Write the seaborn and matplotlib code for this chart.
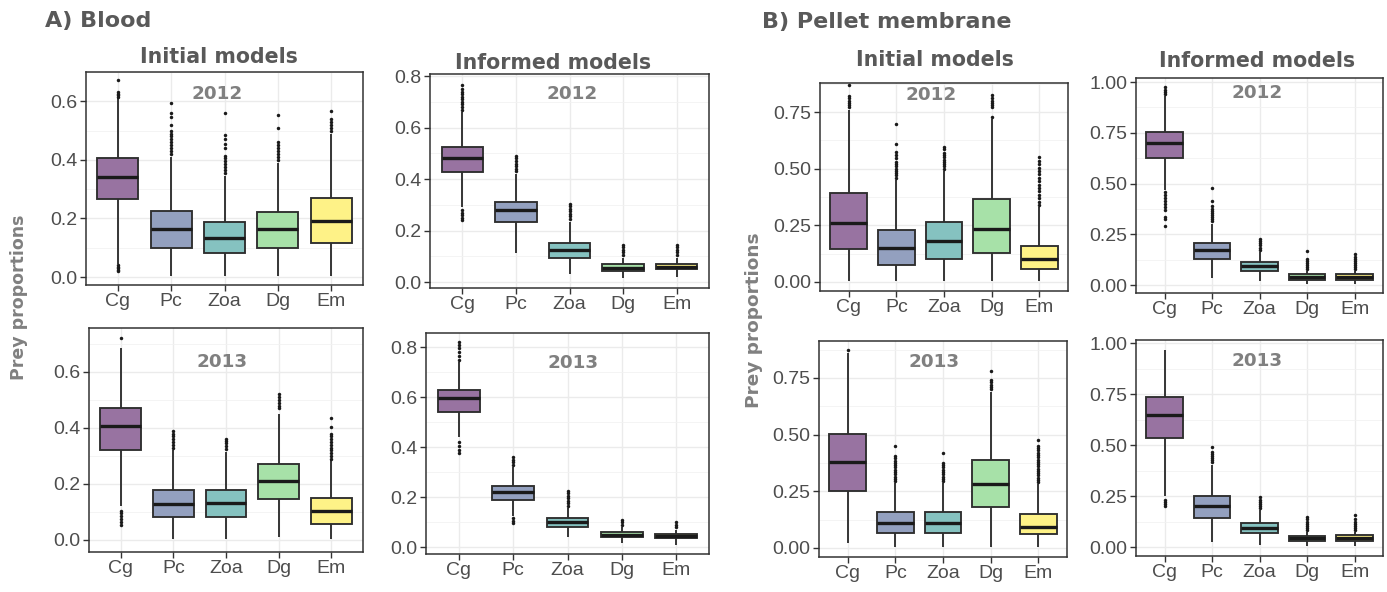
import numpy as np
import pandas as pd
import matplotlib
matplotlib.use("Agg")
import matplotlib.pyplot as plt
import seaborn as sns
from matplotlib.ticker import MultipleLocator, FormatStrFormatter

# ---------------- data ----------------
CATS = ["Cg", "Pc", "Zoa", "Dg", "Em"]

# box statistics per prey: [whisker_low, q1, median, q3, whisker_high]
blood_init_2012_box = [[0.045, 0.265, 0.340, 0.408, 0.610],
                       [0.005, 0.098, 0.163, 0.226, 0.410],
                       [0.005, 0.081, 0.135, 0.188, 0.345],
                       [0.005, 0.098, 0.163, 0.222, 0.390],
                       [0.005, 0.115, 0.192, 0.270, 0.490]]
blood_init_2012_out = [[0.020, 0.025, 0.030, 0.035, 0.040, 0.615, 0.620, 0.625, 0.632, 0.672],
                       [0.42, 0.43, 0.44, 0.45, 0.46, 0.47, 0.48, 0.49, 0.50, 0.52, 0.545, 0.56, 0.593],
                       [0.355, 0.365, 0.375, 0.385, 0.395, 0.405, 0.415, 0.44, 0.455, 0.47, 0.485, 0.56],
                       [0.40, 0.41, 0.42, 0.43, 0.44, 0.45, 0.46, 0.51, 0.552],
                       [0.50, 0.51, 0.52, 0.53, 0.54, 0.567]]

blood_inf_2012_box = [[0.290, 0.428, 0.480, 0.525, 0.660],
                      [0.112, 0.234, 0.280, 0.312, 0.420],
                      [0.032, 0.092, 0.124, 0.153, 0.235],
                      [0.015, 0.044, 0.055, 0.070, 0.095],
                      [0.020, 0.050, 0.060, 0.070, 0.095]]
blood_inf_2012_out = [[0.24, 0.25, 0.26, 0.27, 0.28, 0.67, 0.68, 0.69, 0.70, 0.71, 0.72, 0.73, 0.74, 0.75, 0.765],
                      [0.43, 0.44, 0.45, 0.46, 0.47, 0.48, 0.49],
                      [0.245, 0.255, 0.265, 0.275, 0.285, 0.295, 0.305],
                      [0.105, 0.115, 0.125, 0.135, 0.145],
                      [0.105, 0.115, 0.125, 0.135, 0.145]]

blood_init_2013_box = [[0.120, 0.321, 0.407, 0.473, 0.685],
                       [0.003, 0.081, 0.127, 0.179, 0.320],
                       [0.003, 0.081, 0.133, 0.179, 0.315],
                       [0.010, 0.146, 0.212, 0.270, 0.450],
                       [0.003, 0.056, 0.104, 0.149, 0.285]]
blood_init_2013_out = [[0.055, 0.065, 0.075, 0.085, 0.095, 0.105, 0.720],
                       [0.33, 0.34, 0.35, 0.36, 0.37, 0.38, 0.39],
                       [0.325, 0.335, 0.345, 0.355, 0.360],
                       [0.47, 0.48, 0.49, 0.50, 0.51, 0.52],
                       [0.29, 0.30, 0.31, 0.32, 0.33, 0.34, 0.35, 0.36, 0.37, 0.38, 0.405, 0.435]]

blood_inf_2013_box = [[0.440, 0.541, 0.595, 0.628, 0.740],
                      [0.125, 0.188, 0.221, 0.245, 0.320],
                      [0.041, 0.081, 0.100, 0.115, 0.155],
                      [0.015, 0.040, 0.050, 0.060, 0.080],
                      [0.010, 0.035, 0.043, 0.052, 0.070]]
blood_inf_2013_out = [[0.375, 0.390, 0.405, 0.420, 0.750, 0.765, 0.780, 0.795, 0.810, 0.820],
                      [0.095, 0.105, 0.115, 0.33, 0.34, 0.35, 0.36],
                      [0.165, 0.175, 0.185, 0.195, 0.205, 0.215, 0.225],
                      [0.09, 0.10, 0.11],
                      [0.08, 0.09, 0.10]]

pellet_init_2012_box = [[0.005, 0.144, 0.262, 0.394, 0.760],
                        [0.005, 0.075, 0.149, 0.229, 0.450],
                        [0.005, 0.100, 0.182, 0.266, 0.490],
                        [0.005, 0.129, 0.232, 0.365, 0.720],
                        [0.005, 0.056, 0.100, 0.159, 0.330]]
pellet_init_2012_out = [[0.77, 0.78, 0.79, 0.80, 0.81, 0.82, 0.869],
                        [0.46, 0.47, 0.48, 0.49, 0.50, 0.51, 0.52, 0.53, 0.545, 0.56, 0.575, 0.61, 0.697],
                        [0.50, 0.51, 0.52, 0.53, 0.54, 0.55, 0.56, 0.57, 0.585, 0.597],
                        [0.73, 0.77, 0.78, 0.79, 0.80, 0.81, 0.825],
                        [0.34, 0.355, 0.37, 0.385, 0.40, 0.415, 0.43, 0.445, 0.46, 0.475, 0.49, 0.505, 0.52, 0.535, 0.55]]

pellet_inf_2012_box = [[0.470, 0.627, 0.700, 0.755, 0.930],
                       [0.034, 0.127, 0.172, 0.205, 0.300],
                       [0.020, 0.070, 0.092, 0.112, 0.165],
                       [0.005, 0.025, 0.040, 0.057, 0.070],
                       [0.005, 0.025, 0.040, 0.057, 0.070]]
pellet_inf_2012_out = [[0.29, 0.325, 0.335, 0.37, 0.385, 0.40, 0.415, 0.43, 0.445, 0.46, 0.94, 0.95, 0.96, 0.975],
                       [0.315, 0.325, 0.335, 0.345, 0.355, 0.365, 0.375, 0.39, 0.415, 0.476],
                       [0.175, 0.185, 0.195, 0.205, 0.215, 0.225],
                       [0.08, 0.09, 0.10, 0.11, 0.12, 0.13, 0.167],
                       [0.08, 0.09, 0.10, 0.11, 0.12, 0.13, 0.14, 0.155]]

pellet_init_2013_box = [[0.020, 0.253, 0.378, 0.502, 0.860],
                        [0.005, 0.068, 0.109, 0.157, 0.285],
                        [0.005, 0.068, 0.109, 0.157, 0.285],
                        [0.005, 0.180, 0.281, 0.388, 0.690],
                        [0.005, 0.060, 0.094, 0.149, 0.280]]
pellet_init_2013_out = [[0.873],
                        [0.295, 0.305, 0.315, 0.325, 0.335, 0.345, 0.355, 0.365, 0.375, 0.385, 0.395, 0.405, 0.451],
                        [0.295, 0.305, 0.315, 0.325, 0.335, 0.345, 0.355, 0.365, 0.375, 0.418],
                        [0.70, 0.71, 0.72, 0.73, 0.74, 0.782],
                        [0.29, 0.30, 0.31, 0.32, 0.33, 0.34, 0.35, 0.36, 0.37, 0.38, 0.39, 0.40, 0.41, 0.42, 0.43, 0.44, 0.45, 0.476]]

pellet_inf_2013_box = [[0.250, 0.536, 0.647, 0.734, 0.965],
                       [0.026, 0.144, 0.200, 0.252, 0.400],
                       [0.010, 0.067, 0.095, 0.119, 0.180],
                       [0.005, 0.030, 0.042, 0.055, 0.075],
                       [0.005, 0.030, 0.045, 0.060, 0.075]]
pellet_inf_2013_out = [[0.20, 0.21, 0.22, 0.23],
                       [0.415, 0.425, 0.435, 0.445, 0.455, 0.465, 0.49],
                       [0.19, 0.20, 0.21, 0.22, 0.23, 0.245],
                       [0.085, 0.095, 0.105, 0.115, 0.125, 0.135, 0.145],
                       [0.085, 0.095, 0.105, 0.115, 0.125, 0.135, 0.157]]

YEARS = ["2012", "2013"]
MODEL_TITLES = ["Initial models", "Informed models"]
GROUP_TITLES = ["A) Blood", "B) Pellet membrane"]
YLABEL = "Prey proportions"

# ---------------- style ----------------
sns.set_theme(style="ticks")
plt.rcParams["font.family"] = ["DejaVu Sans"]

W, H = 1387, 592
fig = plt.figure(figsize=(W / 100, H / 100), dpi=100)

vir = plt.get_cmap("viridis")(np.linspace(0, 1, 5))
ALPHA = 0.55
PAL = [tuple(1 - (1 - c[:3]) * ALPHA) for c in vir]

FRAME = "#333333"
TICKCOL = "#4d4d4d"
TITLECOL = "#595959"
YEARCOL = "#808080"


def px_axes(l, t, r, b):
    return fig.add_axes([l / W, 1 - b / H, (r - l) / W, (b - t) / H])


def panel(rect, box, out, ylim, step, fmt, year, year_xy):
    ax = px_axes(*rect)
    rows = [(c, v) for c, vals in zip(CATS, box) for v in vals]
    df = pd.DataFrame(rows, columns=["prey", "value"])
    orows = [(c, v) for c, vals in zip(CATS, out) for v in vals]
    odf = pd.DataFrame(orows, columns=["prey", "value"])
    sns.boxplot(data=df, x="prey", y="value", hue="prey", order=CATS, hue_order=CATS,
                palette=PAL, whis=(0, 100), width=0.77, linecolor="#2e2e2e",
                linewidth=1.35, showcaps=False, showfliers=False, saturation=1,
                legend=False, medianprops={"color": "#1a1a1a", "linewidth": 2.4},
                ax=ax)
    sns.stripplot(data=odf, x="prey", y="value", order=CATS, jitter=False,
                  color="#1a1a1a", size=2.5, linewidth=0, ax=ax, zorder=3)
    ax.set_xlim(-0.6, 4.6)
    ax.set_ylim(*ylim)
    ax.yaxis.set_major_locator(MultipleLocator(step))
    ax.yaxis.set_minor_locator(MultipleLocator(step / 2))
    ax.yaxis.set_major_formatter(FormatStrFormatter(fmt))
    ax.set_axisbelow(True)
    ax.grid(which="major", color="#ebebeb", linewidth=1.0)
    ax.grid(which="minor", axis="y", color="#f2f2f2", linewidth=0.6)
    ax.set_xlabel("")
    ax.set_ylabel("")
    for s in ax.spines.values():
        s.set_color(FRAME)
        s.set_linewidth(1.1)
        s.set_visible(True)
    ax.tick_params(which="major", direction="out", length=4, width=1.0,
                   color=FRAME, labelcolor=TICKCOL, labelsize=14, pad=2,
                   bottom=True, left=True)
    ax.tick_params(which="minor", left=False, bottom=False)
    for lab in ax.get_xticklabels() + ax.get_yticklabels():
        lab.set_fontfamily(["Liberation Sans", "DejaVu Sans"])
    fig.text(year_xy[0] / W, 1 - year_xy[1] / H, year, ha="center", va="center",
             fontsize=13.2, fontweight="bold", color=YEARCOL)
    return ax


# Blood
panel((86, 72, 363, 285), blood_init_2012_box, blood_init_2012_out, (-0.027, 0.70), 0.2, "%.1f", YEARS[0], (217, 94))
panel((430, 74, 709, 288), blood_inf_2012_box, blood_inf_2012_out, (-0.023, 0.808), 0.2, "%.1f", YEARS[0], (572, 94))
panel((89, 328, 363, 552), blood_init_2013_box, blood_init_2013_out, (-0.043, 0.757), 0.2, "%.1f", YEARS[1], (222, 362))
panel((426, 333, 709, 554), blood_inf_2013_box, blood_inf_2013_out, (-0.028, 0.856), 0.2, "%.1f", YEARS[1], (573, 363))
# Pellet membrane
panel((820, 83, 1068, 291), pellet_init_2012_box, pellet_init_2012_out, (-0.040, 0.878), 0.25, "%.2f", YEARS[0], (931, 95))
panel((1136, 78, 1383, 293), pellet_inf_2012_box, pellet_inf_2012_out, (-0.039, 1.02), 0.25, "%.2f", YEARS[0], (1257, 93))
panel((819, 341, 1067, 557), pellet_init_2013_box, pellet_init_2013_out, (-0.040, 0.913), 0.25, "%.2f", YEARS[1], (934, 362))
panel((1136, 340, 1383, 556), pellet_inf_2013_box, pellet_inf_2013_out, (-0.044, 1.015), 0.25, "%.2f", YEARS[1], (1257, 361))


def ftext(x, y, s, **kw):
    fig.text(x / W, 1 - y / H, s, **kw)


ftext(45, 21, GROUP_TITLES[0], ha="left", va="center", fontsize=16, fontweight="bold", color=TITLECOL)
ftext(762, 22, GROUP_TITLES[1], ha="left", va="center", fontsize=16, fontweight="bold", color=TITLECOL)
ftext(219, 57, MODEL_TITLES[0], ha="center", va="center", fontsize=14.8, fontweight="bold", color=TITLECOL)
ftext(553, 63, MODEL_TITLES[1], ha="center", va="center", fontsize=14.8, fontweight="bold", color=TITLECOL)
ftext(935, 60, MODEL_TITLES[0], ha="center", va="center", fontsize=14.8, fontweight="bold", color=TITLECOL)
ftext(1257, 61, MODEL_TITLES[1], ha="center", va="center", fontsize=14.8, fontweight="bold", color=TITLECOL)
ftext(19, 297, YLABEL, ha="center", va="center", rotation=90, fontsize=12.5, fontweight="bold", color=YEARCOL)
ftext(754, 320, YLABEL, ha="center", va="center", rotation=90, fontsize=13.3, fontweight="bold", color=YEARCOL)

fig.savefig("out.png", dpi=100, facecolor="white")
